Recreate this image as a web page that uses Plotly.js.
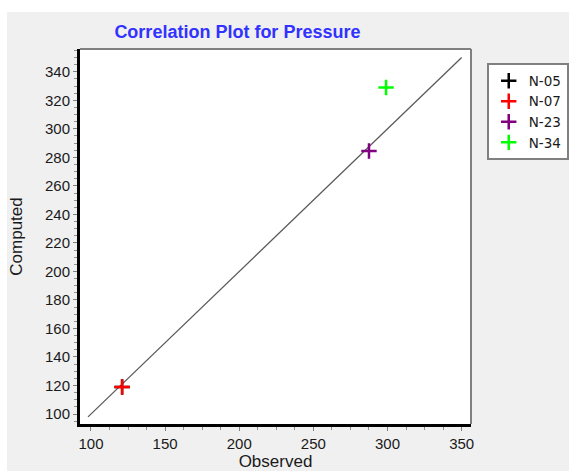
<!DOCTYPE html>
<html>
<head>
<meta charset="utf-8">
<script src="https://cdn.plot.ly/plotly-3.0.1.min.js"></script>
<style>
  html, body { margin: 0; padding: 0; background: #ffffff; width: 569px; height: 471px; overflow: hidden; }
  #chart { position: absolute; left: 7px; top: 12px; width: 562px; height: 459px; }
</style>
</head>
<body>
<div id="chart"></div>
<script>
// Data
const seriesNames = ["N-05", "N-07", "N-23", "N-34"];
const seriesColors = ["#000000", "#ff0000", "#800080", "#00ff00"];
// N-05 is not visible in the picture: it sits under the N-07 cross
const observedN05 = [121];
const computedN05 = [119];
const observedN07 = [121];
const computedN07 = [119];
const observedN23 = [287.5];
const computedN23 = [284.5];
const observedN34 = [299];
const computedN34 = [329];
const diagonalX = [98, 350];
const diagonalY = [98, 350];
const xTickVals = [100, 150, 200, 250, 300, 350];
const yTickVals = [100, 120, 140, 160, 180, 200, 220, 240, 260, 280, 300, 320, 340];

const obs = [observedN05, observedN07, observedN23, observedN34];
const comp = [computedN05, computedN07, computedN23, computedN34];

const traces = [{
  x: diagonalX, y: diagonalY, mode: 'lines', type: 'scatter',
  line: {color: '#5a5a5a', width: 1.3}, showlegend: false, hoverinfo: 'skip'
}];
for (let i = 0; i < seriesNames.length; i++) {
  traces.push({
    x: obs[i], y: comp[i], name: seriesNames[i], type: 'scatter', mode: 'markers',
    marker: {symbol: 'cross-thin', size: 11, color: seriesColors[i],
             line: {color: seriesColors[i], width: 2.5}}
  });
}

const fam = 'Liberation Sans, Arial, sans-serif';
const tickFont = {family: fam, size: 15, color: '#1a1a1a'};
const titleFont = {family: fam, size: 17, color: '#1a1a1a'};

const layout = {
  width: 562, height: 459,
  paper_bgcolor: '#f0f0f0', plot_bgcolor: '#ffffff',
  margin: {l: 73, r: 98, t: 37, b: 47, pad: 0},
  title: {
    text: 'Correlation Plot for Pressure',
    font: {family: fam, size: 18, color: '#3232ff', weight: 'bold'},
    xref: 'container', x: 0.41, xanchor: 'center',
    yref: 'container', y: 0.957, yanchor: 'middle'
  },
  xaxis: {
    range: [92.6, 356.3], tickvals: xTickVals, ticktext: xTickVals.map(String),
    ticks: 'outside', ticklen: 4, tickcolor: '#808080', tickwidth: 1,
    minor: {dtick: 12.5, tick0: 100, ticks: 'outside', ticklen: 3, tickcolor: '#909090', showgrid: false},
    showgrid: false, zeroline: false,
    showline: true, linecolor: '#000000', linewidth: 3, mirror: false,
    tickfont: tickFont,
    title: {text: 'Observed', font: titleFont, standoff: 9}
  },
  yaxis: {
    range: [93, 356], tickvals: yTickVals, ticktext: yTickVals.map(String),
    ticks: 'outside', ticklen: 4, tickcolor: '#808080', tickwidth: 1,
    minor: {dtick: 5, tick0: 100, ticks: 'outside', ticklen: 3, tickcolor: '#909090', showgrid: false},
    showgrid: false, zeroline: false,
    showline: true, linecolor: '#000000', linewidth: 3, mirror: false,
    tickfont: tickFont,
    title: {text: 'Computed', font: titleFont, standoff: 19}
  },
  shapes: [
    {type: 'line', xref: 'paper', yref: 'paper', x0: 0, x1: 1, y0: 1, y1: 1, line: {color: '#808080', width: 2}},
    {type: 'line', xref: 'paper', yref: 'paper', x0: 1, x1: 1, y0: 0, y1: 1, line: {color: '#808080', width: 2}}
  ],
  legend: {
    xref: 'container', yref: 'container', x: 0.8536, y: 0.888,
    xanchor: 'left', yanchor: 'top',
    bgcolor: '#ffffff', bordercolor: '#808080', borderwidth: 2,
    font: {family: 'DejaVu Sans, sans-serif', size: 13.5, color: '#1a1a1a'},
    itemwidth: 30, tracegroupgap: 0
  },
  showlegend: true
};

Plotly.newPlot('chart', traces, layout, {displayModeBar: false, staticPlot: true});
</script>
</body>
</html>
